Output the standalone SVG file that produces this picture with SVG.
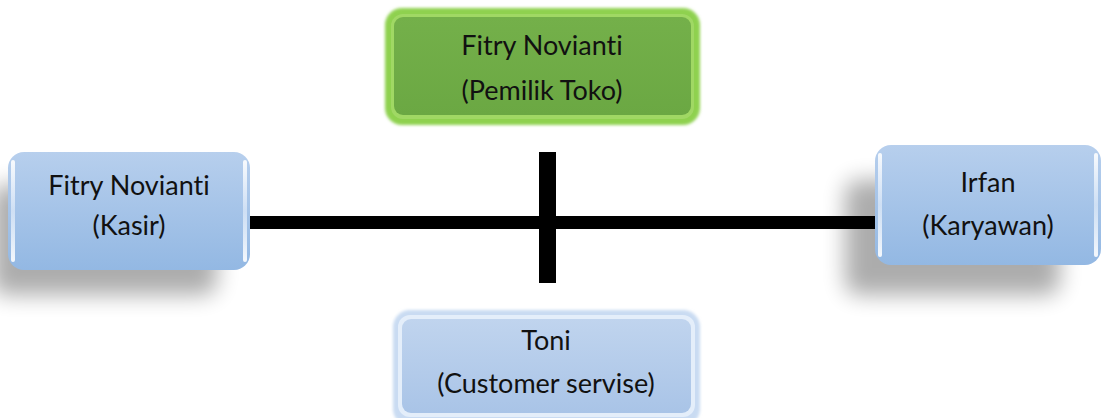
<svg xmlns="http://www.w3.org/2000/svg" width="1101" height="418" viewBox="0 0 1101 418">
  <defs>
    <linearGradient id="blueFill" x1="0" y1="0" x2="0" y2="1">
      <stop offset="0" stop-color="#B7CFED"/>
      <stop offset="1" stop-color="#93B8E3"/>
    </linearGradient>
    <linearGradient id="greenFill" x1="0" y1="0" x2="0" y2="1">
      <stop offset="0" stop-color="#74B04A"/>
      <stop offset="1" stop-color="#6BA843"/>
    </linearGradient>
    <linearGradient id="paleFill" x1="0" y1="0" x2="0" y2="1">
      <stop offset="0" stop-color="#C0D4EE"/>
      <stop offset="1" stop-color="#A9C4E7"/>
    </linearGradient>
    <linearGradient id="sideHi" x1="0" y1="0" x2="0" y2="1">
      <stop offset="0" stop-color="#FFFFFF" stop-opacity="0.9"/>
      <stop offset="0.5" stop-color="#EAF2FC" stop-opacity="0.6"/>
      <stop offset="1" stop-color="#FFFFFF" stop-opacity="0.9"/>
    </linearGradient>
    <filter id="shadow" x="-40%" y="-40%" width="180%" height="200%">
      <feGaussianBlur stdDeviation="11"/>
    </filter>
    <filter id="glow" x="-10%" y="-20%" width="120%" height="140%">
      <feGaussianBlur stdDeviation="1.5"/>
    </filter>
  </defs>
  <style>
    .t { font-family: Lato, "Liberation Sans", sans-serif; font-size: 27px; fill: #111111; text-anchor: middle; font-variant-ligatures: none; }
    .bar { fill: #000000; }
    .sh { fill: #000000; opacity: 0.32; filter: url(#shadow); }
  </style>

  <rect width="1101" height="418" fill="#FFFFFF"/>

  <g id="connectors">
    <rect class="bar" x="250" y="216" width="626" height="13"/>
    <rect class="bar" x="539" y="152" width="17" height="131"/>
  </g>

  <g id="node-owner">
    <rect x="385" y="8" width="315" height="117" rx="17" fill="#8FD14F" filter="url(#glow)"/>
    <rect x="391" y="14" width="303" height="105" rx="12" fill="#A6DB6E" opacity="0.7"/>
    <rect x="394" y="17" width="297" height="98" rx="9" fill="url(#greenFill)"/>
    <text class="t" x="542" y="55">Fitry Novianti</text>
    <text class="t" x="542" y="100">(Pemilik Toko)</text>
  </g>

  <g id="node-kasir">
    <rect class="sh" x="-8" y="185" width="225" height="110" rx="14"/>
    <rect x="8" y="152" width="242" height="118" rx="16" fill="url(#blueFill)"/>
    <rect x="11" y="160" width="4" height="102" rx="2" fill="url(#sideHi)"/>
    <rect x="243" y="160" width="4" height="102" rx="2" fill="url(#sideHi)"/>
    <text class="t" x="129" y="195">Fitry Novianti</text>
    <text class="t" x="129" y="235">(Kasir)</text>
  </g>

  <g id="node-karyawan">
    <rect class="sh" x="845" y="180" width="215" height="115" rx="14"/>
    <rect x="875" y="145" width="226" height="120" rx="16" fill="url(#blueFill)"/>
    <rect x="878" y="153" width="4" height="104" rx="2" fill="url(#sideHi)"/>
    <rect x="1094" y="153" width="4" height="104" rx="2" fill="url(#sideHi)"/>
    <text class="t" x="988" y="192">Irfan</text>
    <text class="t" x="988" y="235">(Karyawan)</text>
  </g>

  <g id="node-cs">
    <rect x="393" y="310" width="307" height="116" rx="17" fill="#C9DBF2" filter="url(#glow)"/>
    <rect x="398" y="315" width="297" height="102" rx="12" fill="#E4EEFA"/>
    <rect x="402" y="319" width="289" height="94" rx="9" fill="url(#paleFill)"/>
    <text class="t" x="546" y="350">Toni</text>
    <text class="t" x="546" y="393">(Customer servise)</text>
  </g>
</svg>
